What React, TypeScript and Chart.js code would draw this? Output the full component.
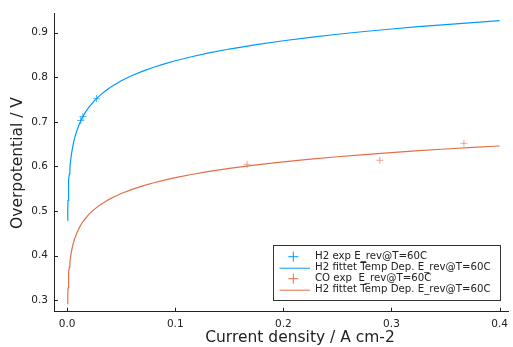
import React, { useEffect, useRef } from "react";
import { Chart, registerables } from "chart.js";

Chart.register(...registerables);

// ---- data ----
const fitX = [0.0004, 0.0005, 0.0006, 0.0008, 0.001, 0.0013, 0.0016, 0.002, 0.0025, 0.003, 0.004, 0.005, 0.006, 0.0075, 0.009, 0.011, 0.013, 0.015, 0.0175, 0.02, 0.025, 0.03, 0.035, 0.04, 0.045, 0.05, 0.06, 0.07, 0.08, 0.09, 0.1, 0.115, 0.13, 0.15, 0.175, 0.2, 0.225, 0.25, 0.275, 0.3, 0.325, 0.35, 0.375, 0.4];
const h2FitY = [0.4788, 0.4933, 0.5051, 0.5238, 0.5383, 0.5553, 0.5687, 0.5832, 0.5977, 0.6095, 0.6282, 0.6427, 0.6545, 0.669, 0.6808, 0.6938, 0.7047, 0.714, 0.724, 0.7326, 0.7471, 0.7589, 0.7689, 0.7776, 0.7852, 0.7921, 0.8039, 0.8139, 0.8226, 0.8302, 0.8371, 0.8461, 0.8541, 0.8634, 0.8734, 0.882, 0.8897, 0.8965, 0.9027, 0.9083, 0.9135, 0.9183, 0.9228, 0.927];
const coFitY = [0.292, 0.3034, 0.3128, 0.3275, 0.339, 0.3524, 0.363, 0.3745, 0.3859, 0.3953, 0.41, 0.4214, 0.4308, 0.4422, 0.4516, 0.4618, 0.4704, 0.4777, 0.4856, 0.4925, 0.5039, 0.5133, 0.5212, 0.528, 0.534, 0.5394, 0.5488, 0.5567, 0.5635, 0.5696, 0.575, 0.5821, 0.5884, 0.5957, 0.6036, 0.6105, 0.6165, 0.6219, 0.6268, 0.6313, 0.6354, 0.6392, 0.6427, 0.646];

const h2ExpX = [0.0125, 0.0145, 0.0272];
const h2ExpY = [0.703, 0.712, 0.752];
const coExpX = [0.1664, 0.2892, 0.367];
const coExpY = [0.605, 0.614, 0.652];

const xTicks = [0.0, 0.1, 0.2, 0.3, 0.4];
const yTicks = [0.3, 0.4, 0.5, 0.6, 0.7, 0.8, 0.9];

const seriesLabels = [
  "H2 exp E_rev@T=60C",
  "H2 fittet Temp Dep. E_rev@T=60C",
  "CO exp  E_rev@T=60C",
  "H2 fittet Temp Dep. E_rev@T=60C",
];

const xTitle = "Current density / A cm-2";
const yTitle = "Overpotential / V";

const BLUE = "#009AFA";
const ORANGE = "#E36F47";
const FONT = "'DejaVu Sans', sans-serif";
const TEXT = "#222";

const zip = (xs: number[], ys: number[]) => xs.map((x, i) => ({ x, y: ys[i] }));

const decorPlugin = {
  id: "decor",
  afterDatasetsDraw(chart: any) {
    const { ctx, chartArea, scales } = chart;
    ctx.save();
    // inner tick marks
    ctx.strokeStyle = "#222";
    ctx.lineWidth = 1;
    ctx.beginPath();
    for (const v of yTicks) {
      const y = Math.round(scales.y.getPixelForValue(v)) + 0.5;
      ctx.moveTo(chartArea.left, y);
      ctx.lineTo(chartArea.left + 4, y);
    }
    for (const v of xTicks) {
      const x = Math.round(scales.x.getPixelForValue(v)) + 0.5;
      ctx.moveTo(x, chartArea.bottom);
      ctx.lineTo(x, chartArea.bottom - 4);
    }
    ctx.stroke();

    // legend
    const lx = 273.5, ly = 245.5, lw = 227, lh = 55;
    ctx.fillStyle = "#fff";
    ctx.fillRect(lx, ly, lw, lh);
    ctx.strokeStyle = "#333";
    ctx.strokeRect(lx, ly, lw, lh);
    const ds = chart.data.datasets;
    ctx.font = `10.2px ${FONT}`;
    ctx.textBaseline = "middle";
    ctx.textAlign = "left";
    ds.forEach((d: any, i: number) => {
      const ry = 256.7 + i * 11;
      const col = d.borderColor;
      ctx.strokeStyle = col;
      ctx.lineWidth = 1;
      ctx.beginPath();
      if (d.showLine) {
        ctx.moveTo(279.5, ry + 0.5);
        ctx.lineTo(310, ry + 0.5);
      } else {
        ctx.moveTo(288.3, ry);
        ctx.lineTo(298.3, ry);
        ctx.moveTo(293.3, ry - 5);
        ctx.lineTo(293.3, ry + 5);
      }
      ctx.stroke();
      ctx.fillStyle = TEXT;
      ctx.fillText(d.label, 315, ry);
    });

    // axis titles
    ctx.fillStyle = TEXT;
    ctx.font = `15.5px ${FONT}`;
    ctx.textAlign = "center";
    ctx.textBaseline = "middle";
    ctx.fillText(xTitle, 300, 338);
    ctx.save();
    ctx.translate(18, 163);
    ctx.rotate(-Math.PI / 2);
    ctx.fillText(yTitle, 0, 0);
    ctx.restore();
    ctx.restore();
  },
};

export default function App() {
  const ref = useRef<HTMLCanvasElement | null>(null);
  useEffect(() => {
    document.body.style.margin = "0";
    const canvas = ref.current!;
    const chart = new Chart(canvas, {
      type: "scatter",
      data: {
        datasets: [
          {
            label: seriesLabels[0],
            data: zip(h2ExpX, h2ExpY),
            borderColor: BLUE,
            backgroundColor: BLUE,
            pointStyle: "cross",
            pointRadius: 3.5,
            pointBorderColor: "rgba(0,154,250,0.7)",
            pointBorderWidth: 1,
            showLine: false,
          },
          {
            label: seriesLabels[1],
            data: zip(fitX, h2FitY),
            borderColor: BLUE,
            borderWidth: 1.2,
            pointRadius: 0,
            showLine: true,
            tension: 0,
          },
          {
            label: seriesLabels[2],
            data: zip(coExpX, coExpY),
            borderColor: ORANGE,
            backgroundColor: ORANGE,
            pointStyle: "cross",
            pointRadius: 3.5,
            pointBorderColor: "rgba(227,111,71,0.6)",
            pointBorderWidth: 1,
            showLine: false,
          },
          {
            label: seriesLabels[3],
            data: zip(fitX, coFitY),
            borderColor: ORANGE,
            borderWidth: 1.2,
            pointRadius: 0,
            showLine: true,
            tension: 0,
          },
        ],
      },
      options: {
        responsive: false,
        animation: false,
        layout: { padding: { left: 0, top: 13, right: 2, bottom: 0 } },
        plugins: {
          legend: { display: false },
          tooltip: { enabled: false },
        },
        scales: {
          x: {
            type: "linear",
            min: -0.0122,
            max: 0.4078,
            grid: { display: false, drawTicks: true, tickLength: 6 },
            border: { display: true, color: "#222", width: 1 },
            ticks: {
              padding: 0,
              color: TEXT,
              font: { family: FONT, size: 10.5 },
              maxRotation: 0,
              callback: (v: any) => Number(v).toFixed(1),
            },
            afterBuildTicks: (s: any) => {
              s.ticks = xTicks.map((v) => ({ value: v }));
            },
            afterFit: (s: any) => {
              s.height = 35.3;
            },
          },
          y: {
            type: "linear",
            min: 0.2744,
            max: 0.9442,
            grid: { display: false, drawTicks: true, tickLength: 6 },
            border: { display: true, color: "#222", width: 1 },
            ticks: {
              padding: 0,
              color: TEXT,
              font: { family: FONT, size: 10.5 },
              callback: (v: any) => Number(v).toFixed(1),
            },
            afterBuildTicks: (s: any) => {
              s.ticks = yTicks.map((v) => ({ value: v }));
            },
            afterFit: (s: any) => {
              s.width = 54;
            },
          },
        },
      },
      plugins: [decorPlugin],
    });
    return () => chart.destroy();
  }, []);
  return (
    <div style={{ position: "absolute", left: 0, top: 0, width: 513, height: 347, background: "#fff" }}>
      <canvas ref={ref} width={513} height={347} />
    </div>
  );
}
